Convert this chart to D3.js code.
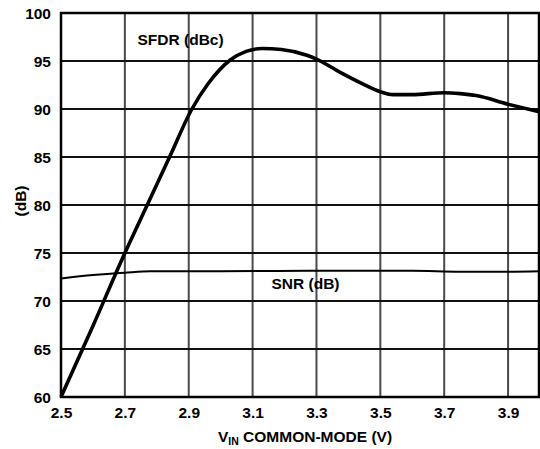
<!DOCTYPE html>
<html><head><meta charset="utf-8">
<script src="https://cdn.jsdelivr.net/npm/d3@7"></script>
<style>
html,body{margin:0;padding:0;background:#fff;}
svg{display:block;}
text{font-family:"Liberation Sans",Arial,Helvetica,sans-serif;font-weight:bold;fill:#000;}
</style></head>
<body>
<svg id="chart" width="540" height="449"></svg>
<script>
const xTicks = [2.5, 2.7, 2.9, 3.1, 3.3, 3.5, 3.7, 3.9];
const yTicks = [60, 65, 70, 75, 80, 85, 90, 95, 100];

const sfdrX = [2.5, 2.6, 2.7, 2.77, 2.84, 2.91, 2.96, 3.03, 3.08, 3.13, 3.19, 3.27, 3.30, 3.37, 3.44, 3.50, 3.54, 3.60, 3.70, 3.75, 3.80, 3.90, 4.0];
const sfdrY = [60, 67.4, 75, 80, 85, 90, 92.6, 95.1, 96.0, 96.3, 96.2, 95.6, 95.2, 93.9, 92.7, 91.8, 91.5, 91.5, 91.7, 91.6, 91.4, 90.5, 89.7];

const snrX = [2.5, 2.6, 2.7, 2.78, 3.0, 3.3, 3.6, 3.75, 3.9, 4.0];
const snrY = [72.35, 72.7, 72.95, 73.1, 73.1, 73.15, 73.15, 73.05, 73.05, 73.1];

const svg = d3.select("#chart");
const L = 61, R = 540, T = 13, B = 397;
const x = d3.scaleLinear().domain([2.5, 4.0]).range([L, R]);
const y = d3.scaleLinear().domain([60, 100]).range([B, T]);
const fs = "15.5px";

// vertical grid
svg.append("g").selectAll("line").data(xTicks.slice(1)).join("line")
  .attr("x1", d => x(d)).attr("x2", d => x(d)).attr("y1", T).attr("y2", B)
  .attr("stroke", "#4a4a4a").attr("stroke-width", 2);
// horizontal grid
svg.append("g").selectAll("line").data(yTicks.slice(1, -1)).join("line")
  .attr("x1", L).attr("x2", R).attr("y1", d => y(d)).attr("y2", d => y(d))
  .attr("stroke", "#111").attr("stroke-width", 2);
// border
svg.append("rect").attr("x", L).attr("y", T).attr("width", R - L - 1).attr("height", B - T)
  .attr("fill", "none").attr("stroke", "#000").attr("stroke-width", 2.5);

// axes (tick labels through d3 axes)
const xAxis = svg.append("g").attr("transform", `translate(0,${B})`)
  .call(d3.axisBottom(x).tickValues(xTicks).tickFormat(d3.format(".1f")).tickSize(0).tickPadding(10));
xAxis.select(".domain").remove();
xAxis.selectAll("text").attr("font-size", fs).attr("font-family", null).attr("dy", "0.71em");

const yAxis = svg.append("g").attr("transform", `translate(${L},0)`)
  .call(d3.axisLeft(y).tickValues(yTicks).tickFormat(d3.format("d")).tickSize(0).tickPadding(10));
yAxis.select(".domain").remove();
yAxis.selectAll("text").attr("font-size", fs).attr("font-family", null).attr("dy", "0.36em");

// lines
const sfdr = sfdrX.map((v, i) => [v, sfdrY[i]]);
const snr = snrX.map((v, i) => [v, snrY[i]]);
const line = d3.line().x(d => x(d[0])).y(d => y(d[1])).curve(d3.curveMonotoneX);

svg.append("path").datum(snr).attr("d", line).attr("fill", "none")
  .attr("stroke", "#000").attr("stroke-width", 2);
svg.append("path").datum(sfdr).attr("d", line).attr("fill", "none")
  .attr("stroke", "#000").attr("stroke-width", 3.6).attr("stroke-linejoin", "round");

// labels
svg.append("text").attr("x", 137.5).attr("y", 45).attr("font-size", fs).text("SFDR (dBc)");
svg.append("text").attr("x", 271.5).attr("y", 289).attr("font-size", fs).text("SNR (dB)");

svg.append("text").attr("transform", "translate(26,201) rotate(-90)")
  .attr("text-anchor", "middle").attr("font-size", fs).text("(dB)");

const xt = svg.append("text").attr("x", 305).attr("y", 442).attr("text-anchor", "middle").attr("font-size", fs);
xt.append("tspan").text("V");
xt.append("tspan").attr("font-size", "10.5px").attr("dy", 3).text("IN");
xt.append("tspan").attr("dy", -3).text(" COMMON-MODE (V)");
</script>
</body></html>
